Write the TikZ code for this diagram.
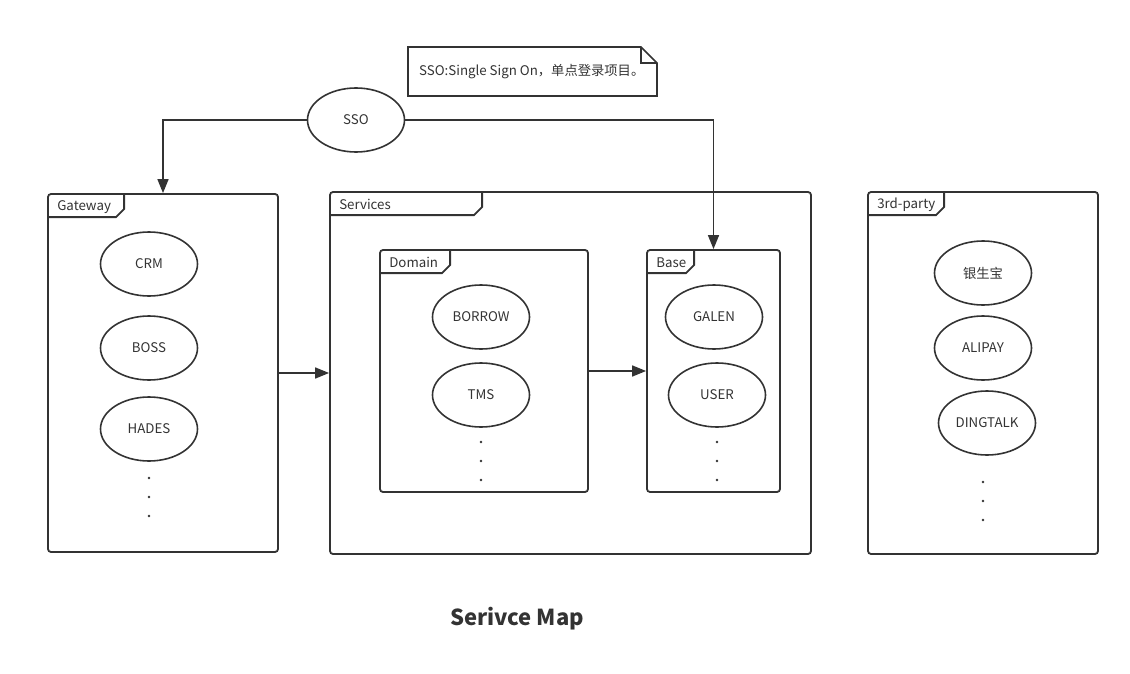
\documentclass[tikz,border=0pt]{standalone}
\usepackage{fontspec}
\setmainfont{Noto Sans CJK SC}
\usetikzlibrary{shapes.geometric,arrows.meta,calc,positioning}
\definecolor{linecol}{HTML}{333333}
\tikzset{
    frame/.style = {draw=linecol, line width=1.8pt, rounded corners=3pt, inner sep=0pt},
    tabline/.style = {draw=linecol, line width=1.8pt},
    tabtext/.style = {font=\fontsize{13.3}{15}\selectfont, text=linecol, anchor=west, inner sep=0pt},
    svc/.style = {ellipse, draw=linecol, line width=1.6pt, minimum width=97pt, minimum height=64pt,
                  inner sep=0pt, font=\fontsize{13.3}{15}\selectfont, text=linecol},
    link/.style = {draw=linecol, line width=1.6pt, -{Triangle[length=14pt,width=11pt]}}
}
% package tab: frame name, tab width, label
\newcommand{\pkgtab}[3]{%
    \draw[tabline] (#1.north west) ++(0,24) -- ++(#2-8,0) -- ++(8,-8) -- ++(0,-16);
    \node[tabtext] at ($(#1.north west)+(10,13.5)$) {#3};
}
\newcommand{\moredots}[2]{%
    \foreach \dy in {0,19,38} \fill[linecol] (#1,#2+\dy) circle (1.3pt);
}
\begin{document}
\begin{tikzpicture}[x=1pt,y=-1pt]
    \useasboundingbox (0,0) rectangle (1130,674);

    %% note
    \draw[tabline, line width=1.6pt] (408,47) -- (641,47) -- (657,63) -- (657,96) -- (408,96) -- cycle;
    \draw[tabline, line width=1.6pt] (641,47) -- (641,63) -- (657,63);
    \node[tabtext] (note) at (419,72) {SSO:Single Sign On，单点登录项目。};

    %% sso
    \node[svc] (sso) at (356,120) {SSO};

    %% frames
    \node[frame, minimum width=230pt, minimum height=358pt] (gateway) at (163,373) {};
    \node[frame, minimum width=481pt, minimum height=362pt] (services) at (570.5,373) {};
    \node[frame, minimum width=208pt, minimum height=242pt] (domain) at (484,371) {};
    \node[frame, minimum width=133pt, minimum height=242pt] (base) at (713.5,371) {};
    \node[frame, minimum width=230pt, minimum height=362pt] (thirdparty) at (983,373) {};

    \pkgtab{gateway}{77}{Gateway}
    \pkgtab{services}{153}{Services}
    \pkgtab{domain}{71}{Domain}
    \pkgtab{base}{48}{Base}
    \pkgtab{thirdparty}{77}{3rd-party}

    %% gateway
    \node[svc] (crm) at (149,264) {CRM};
    \node[svc] (boss) at (149,348) {BOSS};
    \node[svc] (hades) at (149,429) {HADES};
    \moredots{149}{478}

    %% domain
    \node[svc] (borrow) at (481,317) {BORROW};
    \node[svc] (tms) at (481,395) {TMS};
    \moredots{481}{442}

    %% base
    \node[svc] (galen) at (714,317) {GALEN};
    \node[svc] (user) at (717,395) {USER};
    \moredots{717}{442}

    %% 3rd-party
    \node[svc] (yinshengbao) at (983,273) {银生宝};
    \node[svc] (alipay) at (983,348) {ALIPAY};
    \node[svc] (dingtalk) at (987,423) {DINGTALK};
    \moredots{983}{482}

    %% links
    \draw[link] (sso.west) -| (gateway.north);
    \draw[link] (sso.east) -| (base.north);
    \draw[link] (gateway.east) -- (services.west);
    \draw[link] (domain.east) -- (base.west);

    \node[font=\fontsize{22}{26}\selectfont\bfseries, text=linecol] (title) at (517,619) {Serivce Map};
\end{tikzpicture}
\end{document}
